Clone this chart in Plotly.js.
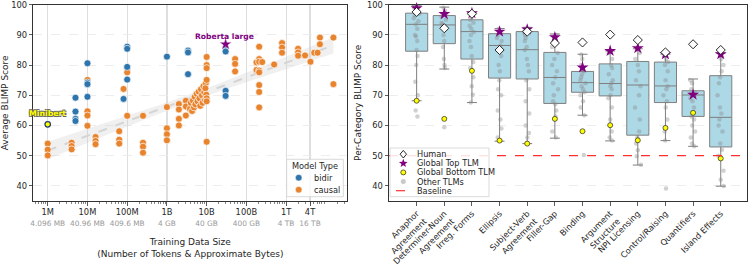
<!DOCTYPE html>
<html><head><meta charset="utf-8">
<script src="https://cdn.plot.ly/plotly-3.0.1.min.js"></script>
<style>html,body{margin:0;padding:0;background:#fff}</style>
</head><body><div id="chart" style="width:748px;height:269px"></div>
<script>
// ---------------- DATA ----------------
const tickTokens = ['1M','10M','100M','1B','10B','100B','1T','4T'];
const tickBytes = ['4.096 MB','40.96 MB','409.6 MB','4 GB','40 GB','400 GB','4 TB','16 TB'];
const tickValues = [1e6,1e7,1e8,1e9,1e10,1e11,1e12,4e12];

const bidirTokens = [5e6,5e6,5e6,5e6, 1e7,1e7,1e7,1e7, 8.1e7, 1e8,1e8,1e8,1e8, 1e9, 3.4e9,3.4e9,3.4e9, 3e10,3e10,3e10,3e10];
const bidirScores = [69.2,64.6,62.2,61.5, 80.6,74.2,73.7,69.5, 68.8, 86.1,85.4,79.4,75.2, 82.8, 84.8,84.2,77.0, 85.6,84.5,71.5,69.8];

const causalTokens = [1e6,1e6,1e6, 4e6,4e6,4e6, 1e7,1e7,1e7,1e7, 1.6e7,1.6e7,1.6e7, 6.3e7,6.3e7,6.3e7, 8.1e7,
  1e8,1e8,1e8, 2.5e8,2.5e8,2.5e8,2.5e8, 1e9,1e9,1e9,1e9, 2e9,2e9,2e9,2e9, 3e9,3e9,3e9,
  3.8e9,4.0e9,4.3e9,4.5e9,4.8e9,5.0e9,5.2e9,5.6e9,5.9e9,6.3e9,6.6e9,6.9e9,7.2e9,7.6e9,7.9e9,8.3e9,8.7e9,9.1e9,9.5e9,9.3e9,9.8e9,
  1e10,1e10,1e10,1e10,1e10,1e10,1e10, 5.2e10,5.2e10,5.2e10, 1.8e11,1.8e11,
  2.1e11,2.1e11,2.1e11,2.1e11,2.1e11,2.1e11,2.1e11,2.1e11, 2.5e11, 5e11, 7.9e11,7.9e11,7.9e11,
  2e12,2e12,2e12, 3e12, 4.1e12, 5.1e12, 6.2e12, 7.1e12,7.1e12, 1.55e13,1.55e13];
const causalScores = [54.0,52.0,50.1, 54.3,53.2,52.1, 75.1,64.7,63.3,59.9, 56.2,54.9,53.8, 58.1,55.3,54.0, 72.1,
  78.7,77.6,63.2, 63.2,54.3,53.0,51.0, 66.1,59.1,57.1,55.1, 67.1,65.3,62.2,60.0, 68.2,66.3,63.3,
  65.5,67.5,64.8,68.3,66.0,69.5,67.0,70.5,68.0,71.2,69.0,66.5,72.0,70.0,67.5,73.0,71.0,68.5,74.0,72.3,70.2,
  82.7,80.0,79.0,75.1,69.0,68.0,54.6, 82.0,80.4,77.9, 80.9,78.4,
  86.1,82.0,81.1,78.2,77.6,73.4,71.1,66.0, 81.0, 80.2, 87.3,85.8,84.1,
  85.4,84.2,83.1, 83.2, 81.1, 84.1, 84.1, 89.1,86.9, 89.1,73.7];

const minibertTokens = [1e6];
const minibertScores = [60.4];
const robertaTokens = [3e10];
const robertaScores = [86.9];

const categories = ['Anaphor<br>Agreement','Determiner-Noun<br>Agreement','Irreg. Forms','Ellipsis','Subject-Verb<br>Agreement',
  'Filler-Gap','Binding','Argument<br>Structure','NPI Licensing','Control/Raising','Quantifiers','Island Effects'];
const boxQ1 =     [84.6, 87.1, 82.0, 75.7, 75.4, 67.3, 71.0, 69.8, 56.8, 67.6, 63.0, 52.9];
const boxMedian = [93.5, 93.3, 91.1, 86.5, 85.1, 75.9, 74.2, 73.9, 73.4, 73.1, 70.1, 62.7];
const boxQ3 =     [97.2, 96.4, 95.0, 90.4, 91.1, 84.2, 77.9, 80.4, 81.2, 81.0, 71.5, 76.5];
const whiskerLow =  [68.2, 78.7, 67.6, 54.8, 54.0, 55.8, 63.4, 54.9, 46.9, 55.0, 53.1, 39.9];
const whiskerHigh = [99.8, 99.2, 97.5, 92.1, 92.5, 90.3, 83.6, 84.7, 85.4, 83.6, 75.4, 84.0];
const humanScores = [97.6, 92.2, 97.0, 85.0, 91.1, 87.3, 87.5, 90.1, 88.3, 84.2, 86.9, 85.0];
const topTLM =      [98.8, 96.9, 97.2, 91.1, 91.8, 89.2, 79.2, 84.7, 85.6, 83.6, 70.2, 83.6];
const bottomTLM =   [68.2, 62.2, 78.1, 55.0, 54.0, 62.2, 58.1, 60.1, 55.1, 59.2, 64.2, 49.1];
const otherTLMs = [
  [63,65,70,74.5,80,83,85,88,89.5,90,92,93.5,94.5,95.5,96.5,97,98,99,99.5],
  [59.4,79,80,82,86,88,90,92,93,93.5,94,95,96,97,98,99],
  [67.6,70.2,73,76,79,81,83,86,88,90,91,92,93,94,95,96,97],
  [56,59,62,65,70,72,75,78,80,83,85,86.5,88,89,90,91,92],
  [56,57.5,60,64,68,72,75,78,80,82,85,86,88,89,90,91,92],
  [56,58,63,65,67,68,70,72,74,76,78,80,82,84,86,88,90],
  [50.2,63.4,66,68,70,71,72,73,74,75,76,77,78,80,82,83.5],
  [55,56,58,62,66,69,70,72,73,74,75,77,79,80,82,84],
  [47,49.8,51.8,54,56,58,62,66,70,73,75,78,80,82,84],
  [39.1,55,58,62,66,68,70,72,73,75,78,80,81,82,83],
  [53.1,54,56,58,60,62,63,64,66,68,69,70,70.5,71,72,74,75],
  [40,42,45,50,52,54,58,60,62,64,66,70,74,76,78,80,82]
];
const baselineScore = 50;

// ---------------- STYLE ----------------
const W = 748, H = 269;
const FONT = 'DejaVu Sans';
const DARK = '#262626';
const BLUE = '#2e75ad', ORANGE = '#e8832e';
const RED = '#ff3030';
const px = v => v / W, py = v => 1 - v / H;

// regression of score on log10(tokens) for the causal models
const allLx = causalTokens.map(Math.log10);
const allY = causalScores.slice();
const n = allLx.length;
const mx = allLx.reduce((a,b)=>a+b,0)/n, my = allY.reduce((a,b)=>a+b,0)/n;
let sxx=0, sxy=0;
for (let i=0;i<n;i++){ sxx += (allLx[i]-mx)**2; sxy += (allLx[i]-mx)*(allY[i]-my); }
const slope = sxy/sxx, icpt = my - slope*mx;
let sse=0; for (let i=0;i<n;i++){ sse += (allY[i]-(icpt+slope*allLx[i]))**2; }
const sres = Math.sqrt(sse/(n-2));
const lmin = Math.min(...allLx), lmax = Math.max(...allLx);
const fitX=[], fitY=[], upY=[], loY=[];
for (let k=0;k<=60;k++){
  const l = lmin + (lmax-lmin)*k/60;
  const yh = icpt + slope*l;
  const se = 1.96*sres*Math.sqrt(1/n + (l-mx)**2/sxx);
  fitX.push(Math.pow(10,l)); fitY.push(yh); upY.push(yh+se); loY.push(yh-se);
}

const minorVals = [];
for (let e=5;e<=13;e++) for (let m=2;m<=9;m++) minorVals.push(m*Math.pow(10,e));

const traces = [];
traces.push({type:'scatter', x:[...fitX, ...fitX.slice().reverse()], y:[...upY, ...loY.slice().reverse()],
  fill:'toself', fillcolor:'rgba(200,200,200,0.28)', line:{width:0}, mode:'lines', hoverinfo:'skip', showlegend:false});
traces.push({type:'scatter', x:fitX, y:fitY, mode:'lines', line:{color:'#d4d4d4', width:2, dash:'dash'}, hoverinfo:'skip', showlegend:false});
traces.push({type:'scatter', x:causalTokens, y:causalScores, mode:'markers', name:'causal',
  marker:{color:ORANGE, size:7, line:{color:'white', width:0.7}}, showlegend:false});
traces.push({type:'scatter', x:bidirTokens, y:bidirScores, mode:'markers', name:'bidir',
  marker:{color:BLUE, size:7, line:{color:'white', width:0.7}}, showlegend:false});
traces.push({type:'scatter', x:minibertTokens, y:minibertScores, mode:'markers',
  marker:{color:'#ffff00', size:5.5, line:{color:'#1f3d6b', width:1.2}}, showlegend:false});
traces.push({type:'scatter', x:robertaTokens, y:robertaScores, mode:'markers',
  marker:{color:'#800080', size:9, symbol:'star', line:{color:'white', width:0.4}}, showlegend:false});

// right panel
const catIdx = categories.map((c,i)=>i);
traces.push({type:'box', xaxis:'x2', yaxis:'y2', x:catIdx, q1:boxQ1, median:boxMedian, q3:boxQ3,
  lowerfence:whiskerLow, upperfence:whiskerHigh, width:0.8, whiskerwidth:0.45,
  fillcolor:'#add8e6', line:{color:'#7f7f7f', width:1}, boxpoints:false, showlegend:false, hoverinfo:'skip'});
const otherX=[], otherY=[];
otherTLMs.forEach((arr,i)=>arr.forEach(v=>{otherX.push(i); otherY.push(v);}));
traces.push({type:'box', xaxis:'x2', yaxis:'y2', x:otherX, y:otherY, boxpoints:'all', jitter:0.3, pointpos:0,
  width:0.8, whiskerwidth:0, fillcolor:'rgba(0,0,0,0)', line:{width:0, color:'rgba(0,0,0,0)'},
  marker:{color:'rgba(135,135,135,0.38)', size:4.5, line:{width:0}}, showlegend:false, hoverinfo:'skip'});
traces.push({type:'scatter', xaxis:'x2', yaxis:'y2', x:catIdx, y:bottomTLM, mode:'markers', cliponaxis:false,
  marker:{color:'#ffff00', size:5, line:{color:'#222', width:0.7}}, showlegend:false});
traces.push({type:'scatter', xaxis:'x2', yaxis:'y2', x:catIdx, y:topTLM, mode:'markers', cliponaxis:false,
  marker:{color:'#800080', size:9, symbol:'star', line:{width:0}}, showlegend:false});
traces.push({type:'scatter', xaxis:'x2', yaxis:'y2', x:catIdx, y:humanScores, mode:'markers', cliponaxis:false,
  marker:{color:'white', size:7, symbol:'diamond', line:{color:'#111', width:0.9}}, showlegend:false});

const tickText = tickTokens.map((t,i)=>`${t}<br><span style="font-size:7.4px;color:#9a9a9a">${tickBytes[i]}</span>`);

const axCommon = {showline:true, mirror:true, linecolor:'#333', linewidth:1, ticks:'outside', ticklen:3.5,
  tickcolor:'#333', tickwidth:0.8, zeroline:false, tickfont:{family:FONT, size:8.3, color:DARK}, ticklabeloverflow:'allow'};
const yDomain = [1-201/H, 1-4.7/H];

// legend helpers
const shapes = [];
const annotations = [];
shapes.push({type:'line', xref:'x2 domain', yref:'y2', x0:0, x1:1, y0:baselineScore, y1:baselineScore,
  line:{color:RED, width:1.2, dash:'dash'}, layer:'above'});

function legendFrame(x0,y0,x1,y1){
  shapes.push({type:'rect', xref:'paper', yref:'paper', x0:px(x0), x1:px(x1), y0:py(y1), y1:py(y0),
    fillcolor:'rgba(255,255,255,0.85)', line:{color:'#d0d0d0', width:0.8}, layer:'above'});
}
function legendText(x,y,txt,anchor){
  annotations.push({xref:'paper', yref:'paper', x:px(x), y:py(y), text:txt, showarrow:false,
    xanchor:anchor||'left', yanchor:'middle', font:{family:FONT, size:8.2, color:DARK}, borderpad:0});
}
function circleGlyph(x,y,r,fill,edge,ew){
  shapes.push({type:'circle', xref:'paper', yref:'paper', xsizemode:'pixel', ysizemode:'pixel',
    xanchor:px(x), yanchor:py(y), x0:-r, x1:r, y0:-r, y1:r, fillcolor:fill, line:{color:edge, width:ew}, layer:'above'});
}
function pathGlyph(x,y,pts,fill,edge,ew){
  const d = 'M' + pts.map(p=>p[0].toFixed(2)+','+p[1].toFixed(2)).join('L') + 'Z';
  shapes.push({type:'path', xref:'paper', yref:'paper', xsizemode:'pixel', ysizemode:'pixel',
    xanchor:px(x), yanchor:py(y), path:d, fillcolor:fill, line:{color:edge, width:ew}, layer:'above'});
}
const starPts = [];
for (let k=0;k<10;k++){ const a = Math.PI/2 + k*Math.PI/5; const r = k%2===0?4.6:1.9; starPts.push([r*Math.cos(a), r*Math.sin(a)]); }
const diamondPts = [[0,3.8],[3.2,0],[0,-3.8],[-3.2,0]];

// left legend
legendFrame(286.7,159.3,343.3,196.7);
legendText(315.3,165.6,'Model Type','center');
circleGlyph(298.7,177.7,3.3,BLUE,'white',0.5);
legendText(312.5,177.9,'bidir');
circleGlyph(298.7,189.7,3.3,ORANGE,'white',0.5);
legendText(312.5,189.9,'causal');

// right legend
legendFrame(390,148,489,196.7);
const rowY = [154.2,163.4,172.4,181.5,190.7];
pathGlyph(403.3,rowY[0],diamondPts,'white','#111',0.9);
legendText(416.5,rowY[0],'Human');
pathGlyph(403.3,rowY[1],starPts,'#800080','#800080',0);
legendText(416.5,rowY[1],'Global Top TLM');
circleGlyph(403.3,rowY[2],2.5,'#ffff00','#222',0.7);
legendText(416.5,rowY[2],'Global Bottom TLM');
circleGlyph(403.3,rowY[3],2.5,'rgba(135,135,135,0.45)','rgba(0,0,0,0)',0);
legendText(416.5,rowY[3],'Other TLMs');
shapes.push({type:'line', xref:'paper', yref:'paper', x0:px(396), x1:px(411), y0:py(rowY[4]), y1:py(rowY[4]),
  line:{color:RED, width:1.2, dash:'dash'}, layer:'above'});
legendText(416.5,rowY[4],'Baseline');

// point labels
annotations.push({xref:'x', yref:'y', x:Math.log10(minibertTokens[0]), y:minibertScores[0], yshift:10.5,
  text:'<b>Minibert</b>', showarrow:false, xanchor:'center', yanchor:'middle',
  font:{family:FONT, size:7.8, color:'#ffff00', shadow:'-0.7px -0.7px 0 #666, 0.7px -0.7px 0 #666, -0.7px 0.7px 0 #666, 0.7px 0.7px 0 #666'}});
annotations.push({xref:'x', yref:'y', x:Math.log10(robertaTokens[0]), y:robertaScores[0], yshift:7.8, xshift:-1.5,
  text:'<b>Roberta large</b>', showarrow:false, xanchor:'center', yanchor:'middle',
  font:{family:FONT, size:7.6, color:'#800080'}});

const layout = {
  width:W, height:H, margin:{l:0,r:0,t:0,b:0}, paper_bgcolor:'white', plot_bgcolor:'rgba(0,0,0,0)',
  font:{family:FONT, size:8.3, color:DARK}, showlegend:false, hovermode:false, boxmode:'overlay',
  xaxis:Object.assign({}, axCommon, {domain:[33.3/W, 347.3/W], type:'log', range:[5.637,13.54],
    tickmode:'array', tickvals:tickValues, ticktext:tickText, showgrid:true, gridcolor:'#dedede', gridwidth:1.2,
    minor:{tickmode:'array', tickvals:minorVals, ticks:'outside', ticklen:2, tickcolor:'#333', tickwidth:0.6, showgrid:false},
    title:{text:'Training Data Size<br>(Number of Tokens & Approximate Bytes)', font:{family:FONT, size:9, color:DARK}, standoff:11},
    automargin:false}),
  yaxis:Object.assign({}, axCommon, {domain:yDomain, range:[35,100], tickvals:[40,50,60,70,80,90,100],
    showgrid:true, gridcolor:'#e8e8e8', gridwidth:0.8, griddash:'dash',
    title:{text:'Average BLIMP Score', font:{family:FONT, size:9, color:DARK}, standoff:3}, automargin:false}),
  xaxis2:Object.assign({}, axCommon, {domain:[389/W, 747/W], anchor:'y2', range:[-1,11.95],
    tickmode:'array', tickvals:catIdx, ticktext:categories, tickangle:-45, showgrid:false, automargin:false}),
  yaxis2:Object.assign({}, axCommon, {domain:yDomain, anchor:'x2', range:[35,100], tickvals:[40,50,60,70,80,90,100],
    showgrid:true, gridcolor:'#e8e8e8', gridwidth:0.8, griddash:'dash',
    title:{text:'Per-Category BLIMP Score', font:{family:FONT, size:9, color:DARK}, standoff:3}, automargin:false}),
  shapes:shapes, annotations:annotations
};

Plotly.newPlot('chart', traces, layout, {displayModeBar:false, staticPlot:true});
</script></body></html>
